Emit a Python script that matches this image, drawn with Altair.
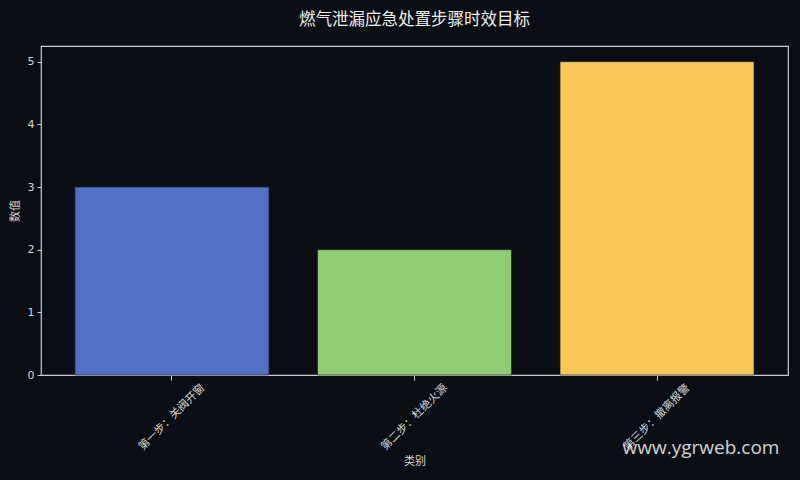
import altair as alt
import pandas as pd
import jinja2

categories = ["第一步：关阀开窗", "第二步：杜绝火源", "第三步：撤离报警"]
values = [3, 2, 5]
colors = ["#5470C6", "#91CC75", "#FAC858"]
y_ticks = [0, 1, 2, 3, 4, 5]
title_text = "燃气泄漏应急处置步骤时效目标"
watermark = ["www.ygrweb.com"]

BG = "#0b0e14"
FG = "#d6d6d6"
CJK = "Noto Sans CJK SC"

df = pd.DataFrame({"类别": categories, "数值": values})
wm = pd.DataFrame({"t": watermark})

bars = alt.Chart(df).mark_bar(stroke="#1c2233", strokeWidth=0.7).encode(
    x=alt.X(
        "类别:N",
        sort=categories,
        scale=alt.Scale(paddingInner=0.2, paddingOuter=0.14),
        axis=alt.Axis(
            title="类别",
            labelAngle=-45,
            labelAlign="center",
            labelBaseline="middle",
            labelPadding=37,
            tickSize=5,
            labelFontSize=11,
            titleY=86,
            titleBaseline="middle",
        ),
    ),
    y=alt.Y(
        "数值:Q",
        scale=alt.Scale(domain=[0, 5.25], nice=False, zero=True),
        axis=alt.Axis(
            title="数值",
            values=y_ticks,
            format="d",
            grid=False,
            tickSize=4,
            labelPadding=3,
            labelFontSize=11,
            labelFont="DejaVu Sans",
            titleX=-26,
            titleBaseline="middle",
        ),
    ),
    color=alt.Color(
        "类别:N", scale=alt.Scale(domain=categories, range=colors), legend=None
    ),
)

mark_wm = alt.Chart(wm).mark_text(
    font="Open Sans",
    fontSize=19,
    color="#e6e6e6",
    opacity=0.9,
    align="center",
    baseline="middle",
).encode(text="t:N", x=alt.value(660), y=alt.value(402))

chart = (
    alt.layer(bars, mark_wm)
    .properties(
        width=747,
        height=329,
        autosize=alt.AutoSizeParams(type="none"),
        padding={"left": 33, "top": 38, "right": 4, "bottom": 97},
        title=alt.TitleParams(
            text=title_text,
            fontSize=16.5,
            fontWeight="normal",
            color="#eeeeee",
            font=CJK,
            anchor="middle",
            offset=18,
        ),
        background=BG,
    )
    .configure_view(stroke="#cccccc", strokeWidth=1.2)
    .configure_axis(
        domain=False,
        tickColor="#cccccc",
        labelColor=FG,
        titleColor=FG,
        titleFont=CJK,
        labelFont=CJK,
        titleFontSize=11,
        titleFontWeight="normal",
    )
)

TEMPLATE = jinja2.Template("""<!DOCTYPE html>
<html>
<head>
<meta charset="utf-8">
<style>
  html, body { background: #0b0e14; }
  body { margin: 8px; }
</style>
<script type="text/javascript" src="{{ base_url }}/vega@{{ vega_version }}"></script>
<script type="text/javascript" src="{{ base_url }}/vega-lite@{{ vegalite_version }}"></script>
<script type="text/javascript" src="{{ base_url }}/vega-embed@{{ vegaembed_version }}"></script>
</head>
<body>
<div id="{{ output_div }}"></div>
<script type="text/javascript">
  (function(vegaEmbed) {
    var spec = {{ spec }};
    var embedOpt = {{ embed_options }};
    function showError(el, error){
      el.innerHTML = ('<div style="color:red;"><p>JavaScript Error: ' + error.message + '</p></div>');
      throw error;
    }
    const el = document.getElementById('{{ output_div }}');
    vegaEmbed("#{{ output_div }}", spec, embedOpt).catch(error => showError(el, error));
  })(vegaEmbed);
</script>
</body>
</html>
""")

chart.save("out.html", embed_options={"renderer": "svg", "actions": False}, template=TEMPLATE)
